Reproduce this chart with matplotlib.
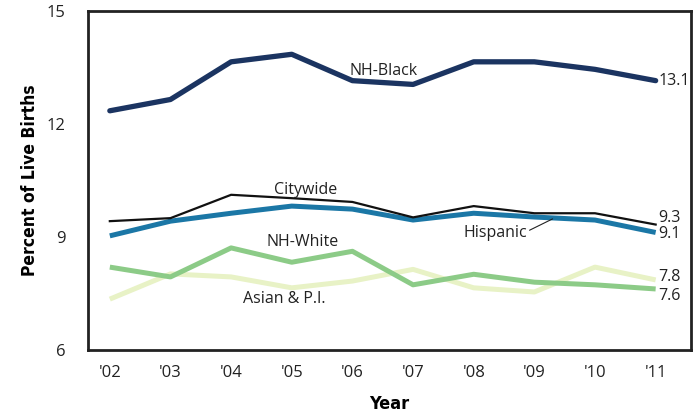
import matplotlib.pyplot as plt

# data
years = ["'02", "'03", "'04", "'05", "'06", "'07", "'08", "'09", "'10", "'11"]
nh_black = [12.35, 12.65, 13.65, 13.85, 13.15, 13.05, 13.65, 13.65, 13.45, 13.15]
citywide = [9.42, 9.5, 10.12, 10.03, 9.93, 9.52, 9.82, 9.63, 9.63, 9.33]
hispanic = [9.03, 9.42, 9.63, 9.82, 9.74, 9.45, 9.63, 9.53, 9.45, 9.12]
nh_white = [8.2, 7.94, 8.71, 8.33, 8.62, 7.73, 8.01, 7.8, 7.73, 7.62]
asian_pi = [7.35, 8.02, 7.94, 7.65, 7.83, 8.14, 7.65, 7.54, 8.2, 7.86]

end_labels = ["13.1", "9.3", "9.1", "7.8", "7.6"]

plt.rcParams['font.family'] = ['Open Sans', 'DejaVu Sans']

fig = plt.figure(figsize=(6.95, 4.17), dpi=100)
ax = fig.add_axes([0.1266, 0.1607, 0.8674, 0.813])

x = list(range(len(years)))
ax.plot(x, asian_pi, color='#e8f2c6', lw=3.6, solid_capstyle='butt')
ax.plot(x, nh_white, color='#8ccb87', lw=3.6, solid_capstyle='butt')
ax.plot(x, hispanic, color='#1b77a6', lw=3.6, solid_capstyle='butt')
ax.plot(x, citywide, color='#111111', lw=1.6)
ax.plot(x, nh_black, color='#1b3461', lw=3.8, solid_capstyle='round')

ax.set_xlim(-0.36, 9.58)
ax.set_ylim(6, 15)
ax.set_yticks([6, 9, 12, 15])
ax.set_xticks(x)
ax.set_xticklabels(years)
ax.tick_params(axis='both', length=0, labelsize=12, colors='#222222')
ax.tick_params(axis='y', pad=16)
ax.tick_params(axis='x', pad=11)
for s in ax.spines.values():
    s.set_linewidth(2)
    s.set_color('#222222')

ax.set_xlabel('Year', fontsize=13, fontweight='bold', labelpad=10,
              family='DejaVu Sans', fontstretch='condensed')
ax.set_ylabel('Percent of Live Births', fontsize=12.5, fontweight='bold', labelpad=6,
              family='DejaVu Sans', fontstretch='condensed')

# series names
fs = 11.5
ax.text(4.52, 13.41, 'NH-Black', fontsize=fs, ha='center', va='center', color='#222222')
ax.text(3.23, 10.25, 'Citywide', fontsize=fs, ha='center', va='center', color='#222222')
ax.text(3.18, 8.87, 'NH-White', fontsize=fs, ha='center', va='center', color='#222222')
ax.text(2.87, 7.35, 'Asian & P.I.', fontsize=fs, ha='center', va='center', color='#222222')
ax.annotate('Hispanic', xy=(7.3, 9.48), xytext=(6.35, 9.1), fontsize=fs,
            ha='center', va='center', color='#222222',
            arrowprops=dict(arrowstyle='-', color='#222222', lw=0.8,
                            shrinkA=0, shrinkB=0, relpos=(1.0, 0.6)))

# end-of-line values, nudged apart where lines crowd
nudge = [0.0, 0.17, -0.05, 0.08, -0.19]
last = [nh_black[-1], citywide[-1], hispanic[-1], asian_pi[-1], nh_white[-1]]
for lab, yv, dy in zip(end_labels, last, nudge):
    ax.annotate(lab, xy=(9, yv + dy), xytext=(2, 0), textcoords='offset points',
                fontsize=fs, ha='left', va='center', color='#222222')

fig.savefig('out.png', dpi=100)
